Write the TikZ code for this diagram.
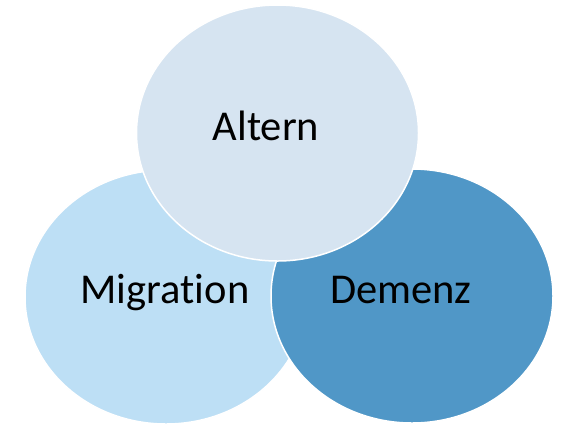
\documentclass[tikz,border=0pt]{standalone}
\usepackage{fontspec}
\setmainfont{Carlito}[Ligatures=NoCommon]
\usetikzlibrary{shapes.geometric}
\definecolor{alterncol}{HTML}{D6E4F1}
\definecolor{migcol}{HTML}{BDDFF5}
\definecolor{demcol}{HTML}{5097C7}
\tikzset{
  bubble/.style={ellipse, draw=white, line width=1.5pt, inner sep=0pt,
                 minimum width=282pt, minimum height=254pt},
  bubblelabel/.style={anchor=base, inner sep=0pt, font=\fontsize{42.5}{50}\selectfont, text=black}
}
\begin{document}
\begin{tikzpicture}[x=1pt,y=-1pt]
  \useasboundingbox[fill=white] (0,0) rectangle (564,424);
  % back to front: Migration, Demenz, Altern
  \node[bubble, fill=migcol] (migration) at (166,297) {};
  \node[bubble, fill=demcol] (demenz) at (412,296) {};
  \node[bubble, fill=alterncol, minimum height=256pt] (altern) at (277.5,133) {};
  \node[bubblelabel] (migtext) at (165,303) {Migration};
  \node[bubblelabel] (demtext) at (401,303) {Demenz};
  \node[bubblelabel] (alttext) at (266,140) {Altern};
\end{tikzpicture}
\end{document}
